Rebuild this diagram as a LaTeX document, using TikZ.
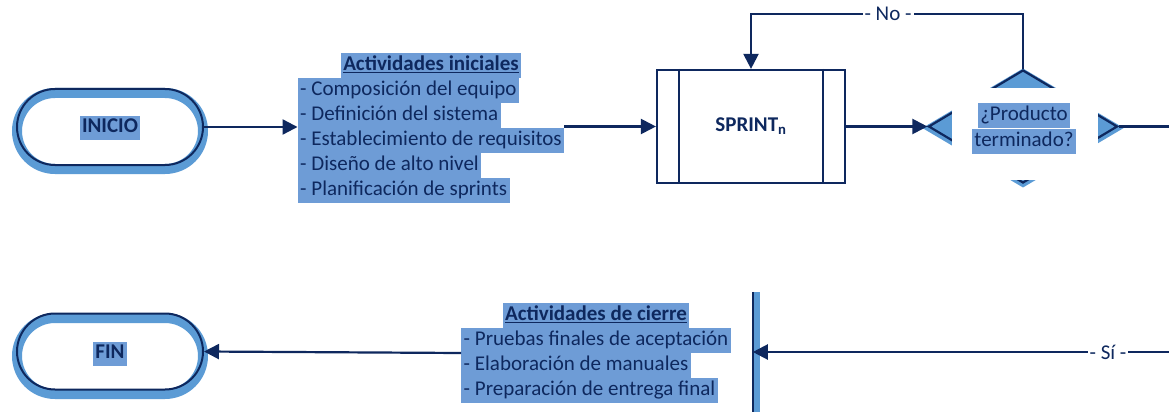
\documentclass[tikz,border=0pt]{standalone}
\usepackage{fontspec}
\setmainfont{Carlito}
\usetikzlibrary{shapes.geometric,shapes.misc,arrows.meta,calc}
\definecolor{navy}{RGB}{14,40,94}
\definecolor{lblue}{RGB}{91,155,213}
\definecolor{hl}{RGB}{110,156,214}
\setlength{\fboxsep}{2.5pt}
\newcommand\hlb[1]{\colorbox{hl}{\rule[-5pt]{0pt}{19.5pt}#1}}
\begin{document}
\begin{tikzpicture}[x=1pt,y=-1pt,
  font=\fontsize{21}{25}\selectfont, text=navy,
  conn/.style={draw=navy, line width=2.2pt, -{Triangle[length=15pt,width=15pt]}},
  plain/.style={draw=navy, line width=2.2pt},
  stadium/.style={rounded rectangle, draw=navy, line width=2pt, fill=white,
     minimum width=186pt, minimum height=76pt, inner sep=0pt},
  glow/.style={rounded rectangle, draw=lblue, line width=10pt,
     minimum width=186pt, minimum height=76pt, inner sep=0pt},
  lab/.style={fill=white, inner sep=2pt},
  blk/.style={inner sep=0pt}
]
\clip (0,0) rectangle (1169,417);
\fill[white] (0,0) rectangle (1169,417);

% INICIO
\node[glow] (inicioglow) at (110,131) {};
\node[stadium, fill=none] (inicio) at (110,127) {};
\node[blk] (iniciot) at (110,128) {\hlb{\textbf{INICIO}}};

% Actividades iniciales
\node[blk] (ini) at (431,128) {\begin{tabular}{@{}l@{}}
\multicolumn{1}{@{}c@{}}{\hlb{\underline{\textbf{Actividades iniciales}}}}\\
\hlb{- Composición del equipo}\\
\hlb{- Definición del sistema}\\
\hlb{- Establecimiento de requisitos}\\
\hlb{- Diseño de alto nivel}\\
\hlb{- Planificación de sprints}
\end{tabular}};

% SPRINT
\node[draw=navy, line width=2.2pt, minimum width=188pt, minimum height=113pt, inner sep=0pt]
  (sprint) at (751,126.5) {\textbf{SPRINT}\textsubscript{\textbf{n}}};
\draw[plain] ([xshift=23pt]sprint.north west) -- ([xshift=23pt]sprint.south west);
\draw[plain] ([xshift=-23pt]sprint.north east) -- ([xshift=-23pt]sprint.south east);

% Decision
\node[diamond, draw=lblue, line width=8pt, minimum width=189pt, minimum height=113pt,
      aspect=1.67, inner sep=0pt] (decglow) at (1023,128) {};
\node[diamond, draw=navy, fill=lblue, line width=2.2pt, minimum width=189pt, minimum height=113pt,
      aspect=1.67, inner sep=0pt] (dec) at (1023,126.5) {};
\node[fill=white, minimum width=146pt, minimum height=92pt, inner sep=0pt] (mask) at (1025,134) {};
\node[blk] (dect) at (1024,128.5) {\begin{tabular}{@{}c@{}}\hlb{¿Producto}\\[1pt]\hlb{terminado?}\end{tabular}};

% FIN
\node[glow] (finglow) at (110,356) {};
\node[stadium, fill=none] (fin) at (110,351.5) {};
\node[blk] (fint) at (110,354) {\hlb{\textbf{FIN}}};

% Actividades de cierre
\node[blk] (cie) at (596,353) {\begin{tabular}{@{}l@{}}
\multicolumn{1}{@{}c@{}}{\hlb{\underline{\textbf{Actividades de cierre}}}}\\
\hlb{- Pruebas finales de aceptación}\\
\hlb{- Elaboración de manuales}\\
\hlb{- Preparación de entrega final}
\end{tabular}};

% bar
\node[fill=lblue, minimum width=7pt, minimum height=120pt, inner sep=0pt] (bar) at (756.5,352) {};
\draw[navy, line width=1.4pt] (bar.north west) -- (bar.south west);

% connectors
\draw[conn] (inicio.east) -- (ini.west |- inicio.east);
\draw[conn] (ini.east |- sprint.west) -- (sprint.west);
\draw[conn] (sprint.east) -- (dec.west);
\coordinate (noy) at (888,14);
\draw[conn] (dec.north) -- (dec.north |- noy) -- (sprint.north |- noy) -- (sprint.north);
\node[lab] (nolab) at (noy) {- No -};
\coordinate (off) at (1200,240);
\draw[conn] (dec.east) -- (dec.east -| off) -- (off |- bar.west) -- (bar.west);
\node[lab] (silab) at (1108,352) {- Sí -};
\draw[conn] (cie.west) -- (fin.east);
\end{tikzpicture}
\end{document}
